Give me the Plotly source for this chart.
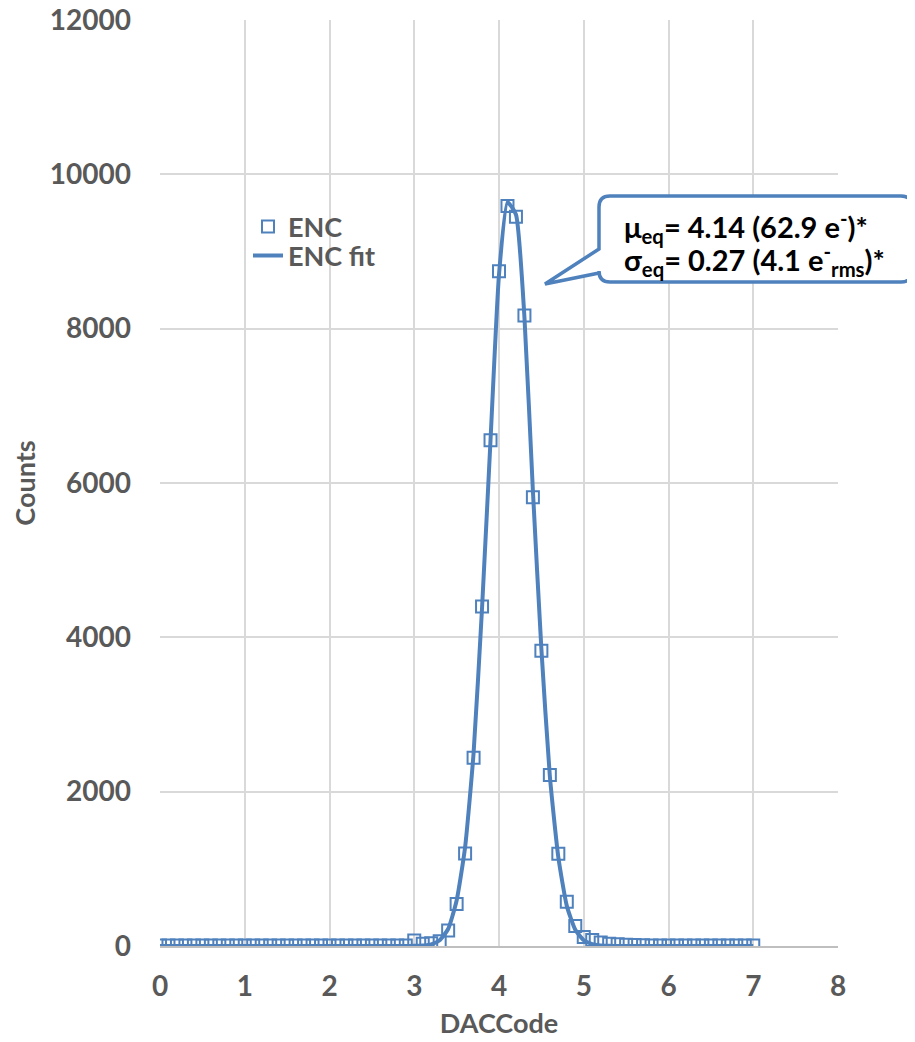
import plotly.graph_objects as go

# ---- data ----
dac_code = [0.0, 0.1, 0.2, 0.3, 0.4, 0.5, 0.6, 0.7, 0.8, 0.9,
            1.0, 1.1, 1.2, 1.3, 1.4, 1.5, 1.6, 1.7, 1.8, 1.9,
            2.0, 2.1, 2.2, 2.3, 2.4, 2.5, 2.6, 2.7, 2.8, 2.9,
            3.0, 3.1, 3.2, 3.3, 3.4, 3.5, 3.6, 3.7, 3.8, 3.9,
            4.0, 4.1, 4.2, 4.3, 4.4, 4.5, 4.6, 4.7, 4.8, 4.9,
            5.0, 5.1, 5.2, 5.3, 5.4, 5.5, 5.6, 5.7, 5.8, 5.9,
            6.0, 6.1, 6.2, 6.3, 6.4, 6.5, 6.6, 6.7, 6.8, 6.9,
            7.0]

enc_counts = [5, 5, 5, 5, 5, 5, 5, 5, 5, 5,
              5, 5, 5, 5, 5, 5, 5, 5, 5, 5,
              5, 5, 5, 5, 5, 5, 5, 5, 5, 5,
              70, 30, 35, 60, 200, 545, 1200, 2440, 4400, 6555,
              8745, 9590, 9450, 8170, 5815, 3825, 2215, 1195, 572, 258,
              118, 78, 45, 30, 22, 15, 12, 10, 6, 6,
              6, 6, 6, 6, 6, 6, 6, 6, 6, 6,
              6]

enc_fit = [0, 0, 0, 0, 0, 0, 0, 0, 0, 0,
           0, 0, 0, 0, 0, 0, 0, 0, 0, 0,
           0, 0, 0, 0, 0, 0, 0, 0, 0, 0,
           2, 6, 22, 75, 220, 590, 1280, 2500, 4380, 6560,
           8700, 9640, 9480, 8150, 5900, 3850, 2200, 1150, 520, 210,
           75, 25, 8, 2, 0, 0, 0, 0, 0, 0,
           0, 0, 0, 0, 0, 0, 0, 0, 0, 0,
           0]

x_ticks = [0, 1, 2, 3, 4, 5, 6, 7, 8]
y_ticks = [0, 2000, 4000, 6000, 8000, 10000, 12000]

BLUE = "#4F81BD"
GREY = "#595959"
FONT = "Lato"

OFF = 8  # page body margin in the browser
W, H = 915 - OFF, 1042 - OFF
L, R, T, B = 160 - OFF, 77, 20 - OFF, 96
PW, PH = W - L - R, H - T - B


def px2paper(px, py):
    """page pixel -> paper coordinates"""
    return (px - OFF - L) / PW, (H - B - (py - OFF)) / PH


def P(px, py):
    x, y = px2paper(px, py)
    return f"{x:.5f},{y:.5f}"


fig = go.Figure()
fig.add_trace(go.Scatter(
    x=dac_code, y=enc_counts, mode="markers", name="ENC",
    marker=dict(symbol="square-open", size=12, color=BLUE,
                line=dict(color=BLUE, width=2)),
    legend="legend"))
fig.add_trace(go.Scatter(
    x=dac_code, y=enc_fit, mode="lines", name="ENC fit",
    line=dict(color=BLUE, width=4, shape="spline", smoothing=0.5),
    legend="legend2"))

# callout box path
bx0, by0, bx1, by1, rad = 599, 196, 912, 282, 11
tip = (545, 284)
base_top, base_bot = 249, 273
path = (
    f"M {P(bx0 + rad, by0)} L {P(bx1 - rad, by0)} Q {P(bx1, by0)} {P(bx1, by0 + rad)} "
    f"L {P(bx1, by1 - rad)} Q {P(bx1, by1)} {P(bx1 - rad, by1)} "
    f"L {P(bx0 + rad, by1)} Q {P(bx0, by1)} {P(bx0, by1 - rad)} "
    f"L {P(bx0, base_bot)} L {P(*tip)} L {P(bx0, base_top)} "
    f"L {P(bx0, by0 + rad)} Q {P(bx0, by0)} {P(bx0 + rad, by0)} Z"
)
fig.add_shape(type="path", path=path, xref="paper", yref="paper",
              fillcolor="white", line=dict(color=BLUE, width=3.5), layer="above")

callout_lines = [
    ("μ<sub>eq</sub>= 4.14 (62.9 e<sup>-</sup>)*", 227),
    ("σ<sub>eq</sub>= 0.27 (4.1 e<sup>-</sup><sub>rms</sub>)*", 260),
]
for txt, cy in callout_lines:
    tx, ty = px2paper(622, cy)
    fig.add_annotation(
        xref="paper", yref="paper", x=tx, y=ty, xanchor="left", yanchor="middle",
        align="left", showarrow=False, text=txt,
        font=dict(family=FONT, size=29, color="black", weight="bold"))

lx1, ly1 = px2paper(248, 227)
lx2, ly2 = px2paper(248, 256)
legend_font = dict(family=FONT, size=27, color=GREY, weight="bold")

fig.update_layout(
    width=W, height=H,
    margin=dict(l=L, r=R, t=T, b=B, autoexpand=False),
    paper_bgcolor="white", plot_bgcolor="white",
    font=dict(family=FONT, color=GREY),
    legend=dict(x=lx1, y=ly1, xanchor="left", yanchor="middle",
                bgcolor="rgba(0,0,0,0)", font=legend_font),
    legend2=dict(x=lx2, y=ly2, xanchor="left", yanchor="middle",
                 bgcolor="rgba(0,0,0,0)", font=legend_font),
    showlegend=True,
)

tick_font = dict(family=FONT, size=28, color=GREY, weight="bold")
title_font = dict(family=FONT, size=27, color=GREY, weight="bold")

fig.update_xaxes(
    range=[0, 8], tickvals=x_ticks, ticktext=[str(v) for v in x_ticks],
    showgrid=True, gridcolor="#D9D9D9", gridwidth=1.5,
    zeroline=False, showline=True, linecolor="#BFBFBF", linewidth=2,
    ticks="", ticklabelstandoff=14, ticklabeloverflow="allow",
    tickfont=tick_font,
    title=dict(text="DACCode", standoff=14, font=title_font),
    automargin=False,
)
fig.update_yaxes(
    range=[0, 12000], tickvals=y_ticks, ticktext=[str(v) for v in y_ticks],
    showgrid=True, gridcolor="#D9D9D9", gridwidth=1.5,
    zeroline=False, showline=False, ticks="", ticklabelstandoff=28,
    ticklabeloverflow="allow",
    tickfont=tick_font,
    title=dict(text="Counts", standoff=20, font=title_font),
    automargin=False,
)

fig.write_html("out.html")
